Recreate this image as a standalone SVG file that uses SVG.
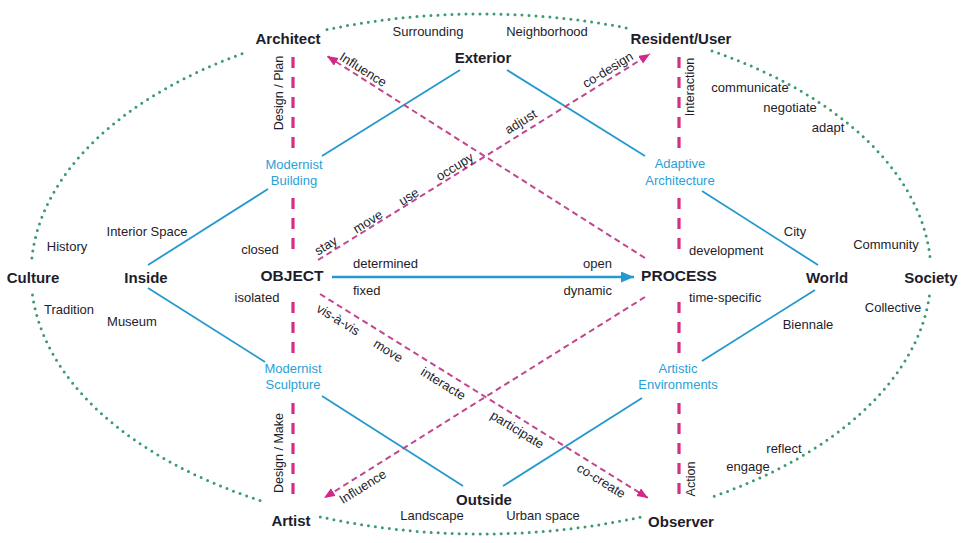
<svg xmlns="http://www.w3.org/2000/svg" width="963" height="543" viewBox="0 0 963 543">
<defs>
<style>
text{font-family:"Liberation Sans",Arial,sans-serif;fill:#1d1d2b}
.node{font-weight:bold;font-size:15px;text-anchor:middle}
.big{font-size:15.5px}
.lbl{font-size:13px;text-anchor:middle}
.lft{text-anchor:start}
.rgt{text-anchor:end}
.vl{font-size:12.5px;text-anchor:middle}
.blue{fill:#2ba0d6;font-size:13px;text-anchor:middle}
.dots{fill:none;stroke:#3b9b6f;stroke-width:3;stroke-linecap:round;stroke-dasharray:0 7}
.bl{stroke:#2599cf;stroke-width:1.8;fill:none}
.vd{stroke:#d42f82;stroke-width:3.2;stroke-dasharray:11 9;fill:none}
.pd{stroke:#c2468f;stroke-width:2;stroke-dasharray:6 4;fill:none}
</style>
<marker id="pa" markerUnits="userSpaceOnUse" markerWidth="12" markerHeight="10" refX="11" refY="4.5" orient="auto">
<path d="M0,0 L11,4.5 L0,9 z" fill="#d3288a"/>
</marker>
<marker id="ba" markerUnits="userSpaceOnUse" markerWidth="14" markerHeight="12" refX="13" refY="5.5" orient="auto">
<path d="M0,0 L13,5.5 L0,11 z" fill="#2599cf"/>
</marker>
</defs>
<rect width="963" height="543" fill="#ffffff"/>

<g id="connectors">
<g id="ellipse">
<path class="dots" d="M327,29.6 A450,260 0 0 1 632,29.1"/>
<path class="dots" d="M712,50.9 A450,260 0 0 1 930.5,262"/>
<path class="dots" d="M929.4,296 A450,260 0 0 1 712,497"/>
<path class="dots" d="M640,517.2 A450,260 0 0 1 318,516.4"/>
<path class="dots" d="M260,500.5 A450,260 0 0 1 32.1,292"/>
<path class="dots" d="M31.9,258 A450,260 0 0 1 247,52"/>
</g>
<g id="blue-lines">
<line class="bl" x1="148" y1="265" x2="268" y2="189"/>
<line class="bl" x1="322" y1="156" x2="460" y2="70"/>
<line class="bl" x1="507" y1="70" x2="645" y2="156"/>
<line class="bl" x1="702" y1="191" x2="818" y2="265"/>
<line class="bl" x1="815" y1="290" x2="702" y2="361"/>
<line class="bl" x1="642" y1="398" x2="503" y2="486"/>
<line class="bl" x1="463" y1="486" x2="322" y2="396"/>
<line class="bl" x1="148" y1="288" x2="265" y2="362"/>
<line stroke="#2599cf" stroke-width="2.6" x1="332" y1="277" x2="634" y2="277" marker-end="url(#ba)"/>
</g>
<g id="vertical-dashes">
<line class="vd" x1="293" y1="57" x2="293" y2="148"/>
<line class="vd" x1="293" y1="198" x2="293" y2="253"/>
<line class="vd" x1="293" y1="302" x2="293" y2="357"/>
<line class="vd" x1="293" y1="403" x2="293" y2="497"/>
<line class="vd" x1="679" y1="57" x2="679" y2="148"/>
<line class="vd" x1="679" y1="198" x2="679" y2="253"/>
<line class="vd" x1="679" y1="302" x2="679" y2="357"/>
<line class="vd" x1="679" y1="403" x2="679" y2="497"/>
</g>
<g id="diagonal-dashes">
<line class="pd" x1="645" y1="258" x2="327" y2="56" marker-end="url(#pa)"/>
<line class="pd" x1="318" y1="260" x2="650" y2="54" marker-end="url(#pa)"/>
<line class="pd" x1="320" y1="294" x2="648" y2="498" marker-end="url(#pa)"/>
<line class="pd" x1="645" y1="297" x2="324" y2="498" marker-end="url(#pa)"/>
</g>
</g>

<g id="node-architect"><text class="node" x="288" y="43.5">Architect</text></g>
<g id="node-resident"><text class="node" x="681" y="43.5">Resident/User</text></g>
<g id="node-exterior"><text class="node" x="483" y="63">Exterior</text></g>
<g id="node-culture"><text class="node" x="33" y="283">Culture</text></g>
<g id="node-inside"><text class="node" x="146" y="283">Inside</text></g>
<g id="node-object"><text class="node big" x="292" y="281">OBJECT</text></g>
<g id="node-process"><text class="node big" x="679" y="281">PROCESS</text></g>
<g id="node-world"><text class="node" x="827" y="283">World</text></g>
<g id="node-society"><text class="node" x="931" y="283">Society</text></g>
<g id="node-outside"><text class="node" x="484" y="505">Outside</text></g>
<g id="node-artist"><text class="node" x="291" y="526">Artist</text></g>
<g id="node-observer"><text class="node" x="681" y="527">Observer</text></g>
<g id="node-modernist-building"><text class="blue" x="294" y="169">Modernist</text><text class="blue" x="294" y="185">Building</text></g>
<g id="node-adaptive-architecture"><text class="blue" x="680" y="168">Adaptive</text><text class="blue" x="680" y="185">Architecture</text></g>
<g id="node-modernist-sculpture"><text class="blue" x="293" y="373">Modernist</text><text class="blue" x="293" y="389">Sculpture</text></g>
<g id="node-artistic-environments"><text class="blue" x="678" y="373">Artistic</text><text class="blue" x="678" y="389">Environments</text></g>

<g id="labels">
<text class="lbl" x="428" y="36">Surrounding</text>
<text class="lbl" x="547" y="36">Neighborhood</text>
<text class="lbl" x="750" y="92">communicate</text>
<text class="lbl" x="790" y="112">negotiate</text>
<text class="lbl" x="828" y="132">adapt</text>
<text class="lbl" x="147" y="236">Interior Space</text>
<text class="lbl" x="67" y="251">History</text>
<text class="lbl" x="260" y="254">closed</text>
<text class="lbl" x="257" y="302">isolated</text>
<text class="lbl" x="69" y="314">Tradition</text>
<text class="lbl" x="132" y="326">Museum</text>
<text class="lbl lft" x="353" y="268">determined</text>
<text class="lbl rgt" x="612" y="268">open</text>
<text class="lbl lft" x="353" y="295">fixed</text>
<text class="lbl rgt" x="612" y="295">dynamic</text>
<text class="lbl" x="795" y="236">City</text>
<text class="lbl lft" x="689" y="255">development</text>
<text class="lbl" x="886" y="249">Community</text>
<text class="lbl lft" x="689" y="302">time-specific</text>
<text class="lbl" x="893" y="312">Collective</text>
<text class="lbl" x="808" y="329">Biennale</text>
<text class="lbl" x="784" y="453">reflect</text>
<text class="lbl" x="748" y="471">engage</text>
<text class="lbl" x="432" y="520">Landscape</text>
<text class="lbl" x="543" y="520">Urban space</text>
<text class="vl" transform="translate(283,93) rotate(-90)">Design / Plan</text>
<text class="vl" transform="translate(283,453) rotate(-90)">Design / Make</text>
<text class="vl" transform="translate(694,87) rotate(-90)">Interaction</text>
<text class="vl" transform="translate(695,479) rotate(-90)">Action</text>
<text class="lbl" transform="translate(363,70) rotate(32.3)" y="4">Influence</text>
<text class="lbl" transform="translate(326,246) rotate(-31.6)" y="4">stay</text>
<text class="lbl" transform="translate(368,222) rotate(-31.6)" y="4">move</text>
<text class="lbl" transform="translate(409,197) rotate(-31.6)" y="4">use</text>
<text class="lbl" transform="translate(455,167) rotate(-31.6)" y="4">occupy</text>
<text class="lbl" transform="translate(521,122) rotate(-31.6)" y="4">adjust</text>
<text class="lbl" transform="translate(608,70) rotate(-31.6)" y="4">co-design</text>
<text class="lbl" transform="translate(338,320) rotate(31.7)" y="4">vis-à-vis</text>
<text class="lbl" transform="translate(388,351) rotate(31.7)" y="4">move</text>
<text class="lbl" transform="translate(443,384) rotate(31.7)" y="4">interacte</text>
<text class="lbl" transform="translate(517,430) rotate(31.7)" y="4">participate</text>
<text class="lbl" transform="translate(601,481) rotate(31.7)" y="4">co-create</text>
<text class="lbl" transform="translate(363,487) rotate(-32)" y="4">Influence</text>
</g>
</svg>
